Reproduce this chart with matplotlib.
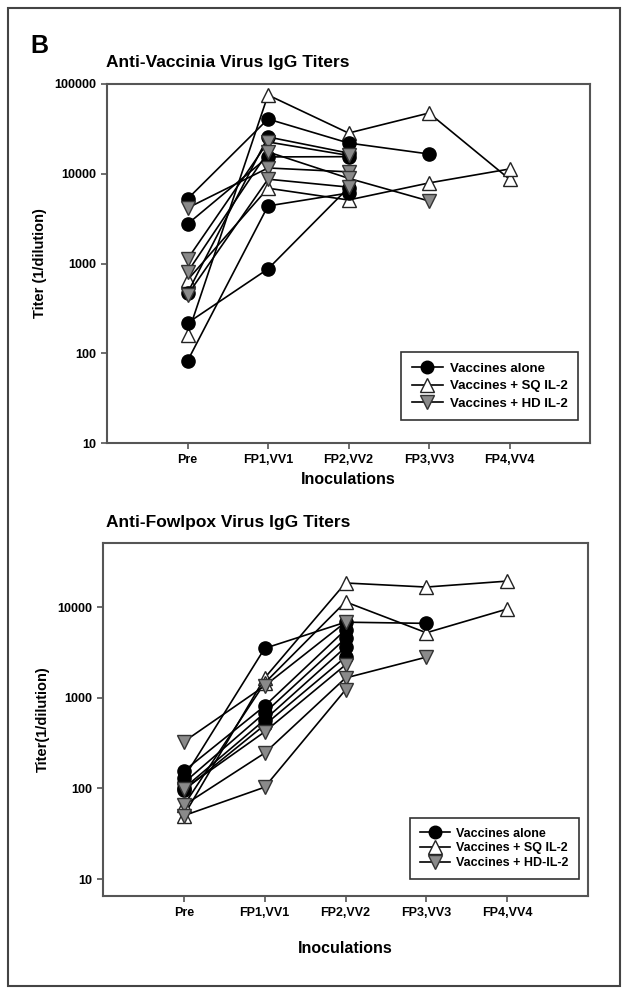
import numpy as np
import matplotlib
matplotlib.use("Agg")
import matplotlib.pyplot as plt
from matplotlib.patches import Rectangle
from matplotlib.ticker import FixedLocator, NullLocator

plt.rcParams['font.family'] = ['Liberation Sans', 'DejaVu Sans']
plt.rcParams['font.weight'] = 'bold'

nan = np.nan
categories = ['Pre', 'FP1,VV1', 'FP2,VV2', 'FP3,VV3', 'FP4,VV4']

# anti-vaccinia titers, one row per patient
vacc_alone = [
    [5240, 40700, 22000, 16600, nan],
    [2750, 15400, 15500, nan, nan],
    [470, 25700, 17000, nan, nan],
    [217, 870, 7000, nan, nan],
    [82, 4380, 6100, nan, nan],
]
vacc_sq = [
    [160, 75400, 28400, 47500, 8700],
    [655, 6900, 5100, 7900, 11300],
]
vacc_hd = [
    [4150, 11600, 10500, nan, nan],
    [1120, 22600, 16000, nan, nan],
    [800, 17500, 8900, 4970, nan],
    [447, 8700, 7100, nan, nan],
]

# anti-fowlpox titers
fowl_alone = [
    [130, 3500, 6800, 6600, nan],
    [155, 810, 5600, nan, nan],
    [115, 680, 4500, nan, nan],
    [100, 570, 3600, nan, nan],
    [95, 500, 2800, nan, nan],
]
fowl_sq = [
    [50, 1650, 18400, 16600, 19300],
    [65, 1450, 11400, 5200, 9500],
]
fowl_hd = [
    [327, 1350, 6800, nan, nan],
    [98, 420, 2300, nan, nan],
    [65, 245, 1650, 2800, nan],
    [50, 103, 1220, nan, nan],
]

W, H = 628, 994
fig = plt.figure(figsize=(W / 100, H / 100), dpi=100)

def px_axes(left, top, right, bottom):
    return fig.add_axes([left / W, 1 - bottom / H, (right - left) / W, (bottom - top) / H])

styles = [
    dict(marker='^', mfc='white', mec='#222222', ms=10),
    dict(marker='o', mfc='black', mec='black', ms=9.5),
    dict(marker='v', mfc='#8a8a8a', mec='#333333', ms=10),
]

def draw(ax, groups, labels, yticks, ylim, ylabel, legend_pos, lspacing, xpad, lsize):
    x = np.arange(len(categories))
    handles = {}
    for rows, st, lab in zip(groups, styles, labels):
        for r in rows:
            ln, = ax.plot(x, r, color='black', lw=1.2, mew=1.0, **st)
        ln.set_label(lab)
        handles[lab] = ln
    ax.set_yscale('log')
    ax.set_ylim(*ylim)
    ax.set_xlim(-1, 5)
    ax.yaxis.set_major_locator(FixedLocator(yticks))
    ax.yaxis.set_minor_locator(NullLocator())
    ax.set_yticklabels([str(int(v)) for v in yticks])
    ax.set_xticks(x)
    ax.set_xticklabels(categories)
    ax.tick_params(labelsize=9, length=4, width=1.2, color='#555555', pad=4)
    for t in ax.get_xticklabels() + ax.get_yticklabels():
        t.set_fontweight('bold')
    for s in ax.spines.values():
        s.set_color('#555555')
        s.set_linewidth(1.5)
    ax.set_xlabel('Inoculations', fontsize=11.5, fontweight='bold', labelpad=xpad)
    ax.set_ylabel(ylabel, fontsize=10.5, fontweight='bold', labelpad=5)
    order = [labels[1], labels[0], labels[2]]
    leg = ax.legend(handles=[handles[k] for k in order], loc='upper left',
                    bbox_to_anchor=legend_pos,
                    fancybox=False, edgecolor='#333333', framealpha=1,
                    prop=dict(size=lsize, weight='bold'), handlelength=2.4,
                    labelspacing=lspacing, borderpad=0.8, handletextpad=0.5,
                    markerscale=0.95)
    leg.get_frame().set_linewidth(1.2)

ax1 = px_axes(107, 84, 590, 443)
draw(ax1, [vacc_sq, vacc_alone, vacc_hd],
     ['Vaccines + SQ IL-2', 'Vaccines alone', 'Vaccines + HD IL-2'],
     [10, 100, 1000, 10000, 100000], (10, 100000), 'Titer (1/dilution)',
     (0.595, 0.272), 0.4, 4, 9.5)

ax2 = px_axes(103, 543, 588, 896)
draw(ax2, [fowl_sq, fowl_alone, fowl_hd],
     ['Vaccines + SQ IL-2', 'Vaccines alone', 'Vaccines + HD-IL-2'],
     [10, 100, 1000, 10000], (6.5, 50800), 'Titer(1/dilution)',
     (0.62, 0.240), 0.22, 16, 9)

fig.text(30 / W, 1 - 46 / H, 'B', fontsize=18, fontweight='bold', va='center')
fig.text(106 / W, 1 - 62 / H, 'Anti-Vaccinia Virus IgG Titers', fontsize=12.5, fontweight='bold', va='center')
fig.text(106 / W, 1 - 522 / H, 'Anti-Fowlpox Virus IgG Titers', fontsize=12.5, fontweight='bold', va='center')

fig.patches.append(Rectangle((8 / W, 8 / H), 612 / W, 978 / H, transform=fig.transFigure,
                             fill=False, edgecolor='#444444', lw=1.5))

fig.savefig('out.png', dpi=100)
